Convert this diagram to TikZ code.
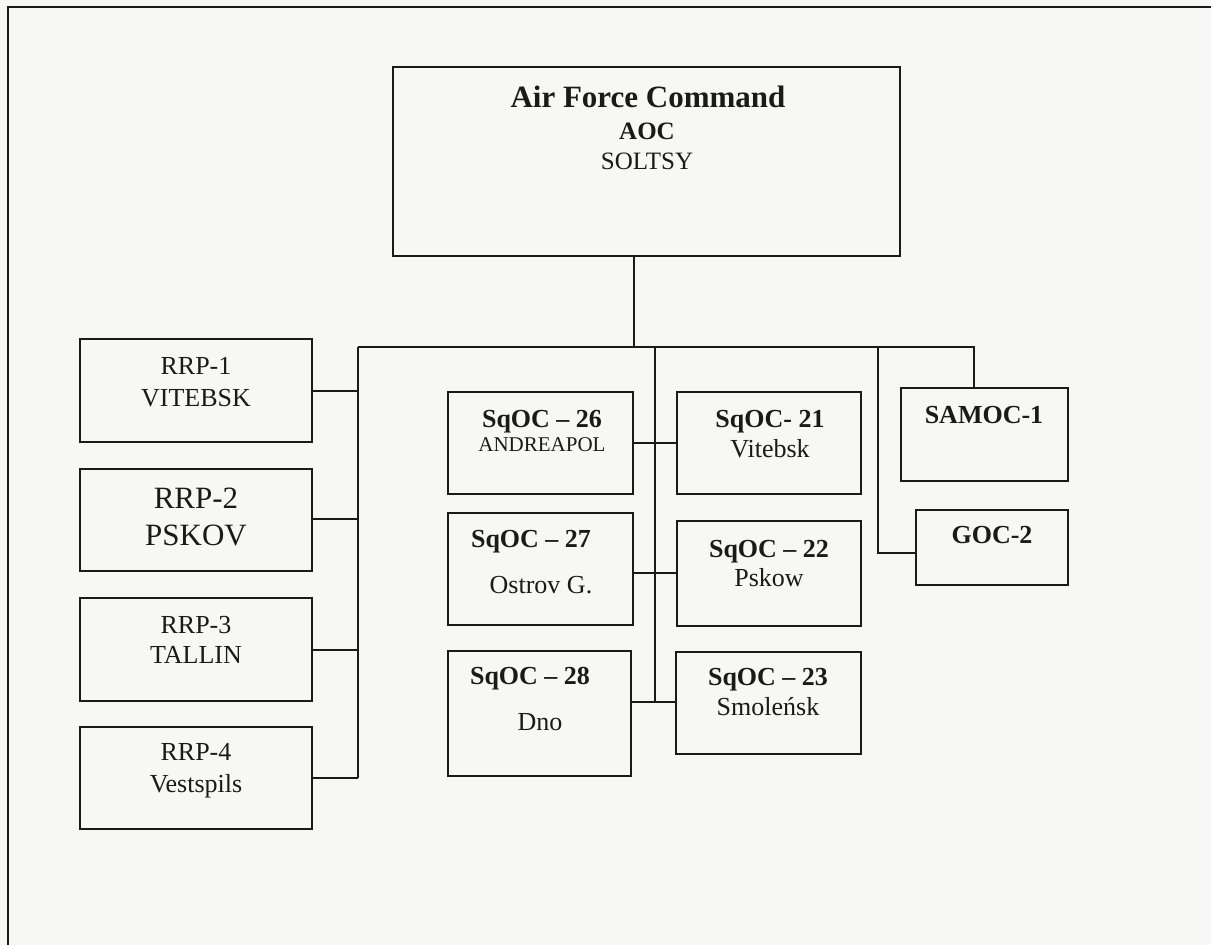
\documentclass[tikz,border=0pt]{standalone}
\usepackage{fontspec}
\setmainfont{Liberation Serif}
\usetikzlibrary{fit}
\definecolor{ink}{HTML}{1A1A1A}
\definecolor{paper}{HTML}{F7F7F6}
\newcommand\fsz[1]{\fontsize{#1}{#1}\selectfont}
\begin{document}
\begin{tikzpicture}[x=1pt,y=-1pt,
  box/.style={draw=ink, line width=2pt, inner sep=0pt},
  link/.style={draw=ink, line width=1.8pt},
  lbl/.style={anchor=base, inner sep=0pt, text=ink, font=\fsz{26}},
  blbl/.style={lbl, font=\bfseries\fsz{26}}]
\fill[paper] (0,0) rectangle (1211,945);
\useasboundingbox (0,0) rectangle (1211,945);
% page frame
\draw[ink, line width=1.6pt] (8,945) -- (8,7) -- (1211,7);

% boxes
\node[box, fit={(393,67) (900,256)}] (aoc) {};
\node[box, fit={(80,339) (312,442)}] (rrp1) {};
\node[box, fit={(80,469) (312,571)}] (rrp2) {};
\node[box, fit={(80,598) (312,701)}] (rrp3) {};
\node[box, fit={(80,727) (312,829)}] (rrp4) {};
\node[box, fit={(448,392) (633,494)}] (sq26) {};
\node[box, fit={(677,392) (861,494)}] (sq21) {};
\node[box, fit={(448,513) (633,625)}] (sq27) {};
\node[box, fit={(677,521) (861,626)}] (sq22) {};
\node[box, fit={(448,651) (631,776)}] (sq28) {};
\node[box, fit={(676,652) (861,754)}] (sq23) {};
\node[box, fit={(901,388) (1068,481)}] (samoc) {};
\node[box, fit={(916,510) (1068,585)}] (goc) {};

% texts
\node[blbl, font=\bfseries\fsz{31}] (aocA) at (648,107) {Air Force Command};
\node[blbl, font=\bfseries\fsz{25}] (aocB) at (647,139) {AOC};
\node[lbl, font=\fsz{25}] (aocC) at (647,169) {SOLTSY};

\node[lbl] (r1a) at (196,374) {RRP-1};
\node[lbl] (r1b) at (196,406) {VITEBSK};
\node[lbl, font=\fsz{31}] (r2a) at (196,508) {RRP-2};
\node[lbl, font=\fsz{31}] (r2b) at (196,545) {PSKOV};
\node[lbl] (r3a) at (196,633) {RRP-3};
\node[lbl] (r3b) at (196,663) {TALLIN};
\node[lbl] (r4a) at (196,760) {RRP-4};
\node[lbl] (r4b) at (196,792) {Vestspils};

\node[blbl] (s26a) at (542,427) {SqOC – 26};
\node[lbl, font=\fsz{21}] (s26b) at (542,451) {ANDREAPOL};
\node[blbl] (s21a) at (770,427) {SqOC- 21};
\node[lbl] (s21b) at (770,457) {Vitebsk};
\node[blbl] (s27a) at (531,547) {SqOC – 27};
\node[lbl] (s27b) at (541,593) {Ostrov G.};
\node[blbl] (s22a) at (769,557) {SqOC – 22};
\node[lbl] (s22b) at (769,586) {Pskow};
\node[blbl] (s28a) at (530,684) {SqOC – 28};
\node[lbl] (s28b) at (540,730) {Dno};
\node[blbl] (s23a) at (768,685) {SqOC – 23};
\node[lbl] (s23b) at (768,715) {Smoleńsk};
\node[blbl] (samocT) at (984,423) {SAMOC-1};
\node[blbl] (gocT) at (992,543) {GOC-2};

% connector junctions
\coordinate (barL) at (358,347);
\coordinate (barR) at (974,347);
\coordinate (jA) at (634,347);
\coordinate (jC) at (655,347);
\coordinate (jG) at (878,347);
\coordinate (cG) at (878,553);
\coordinate (lEnd) at (358,778);
\coordinate (cEnd) at (655,702);

\draw[link] (aoc.south -| jA) -- (jA);
\draw[link] (barL) -- (barR) -- (samoc.north -| barR);
\draw[link] (jG) -- (cG) -- (cG -| goc.west);
\draw[link] (barL) -- (lEnd);
\draw[link] (jC) -- (cEnd);

\draw[link] (rrp1.east |- 0,391) -- (barL |- 0,391);
\draw[link] (rrp2.east |- 0,519) -- (barL |- 0,519);
\draw[link] (rrp3.east |- 0,650) -- (barL |- 0,650);
\draw[link] (rrp4.east |- lEnd) -- (lEnd);

\draw[link] (sq26.east |- 0,443) -- (sq21.west |- 0,443);
\draw[link] (sq27.east |- 0,573) -- (sq22.west |- 0,573);
\draw[link] (sq28.east |- cEnd) -- (sq23.west |- cEnd);
\end{tikzpicture}
\end{document}
